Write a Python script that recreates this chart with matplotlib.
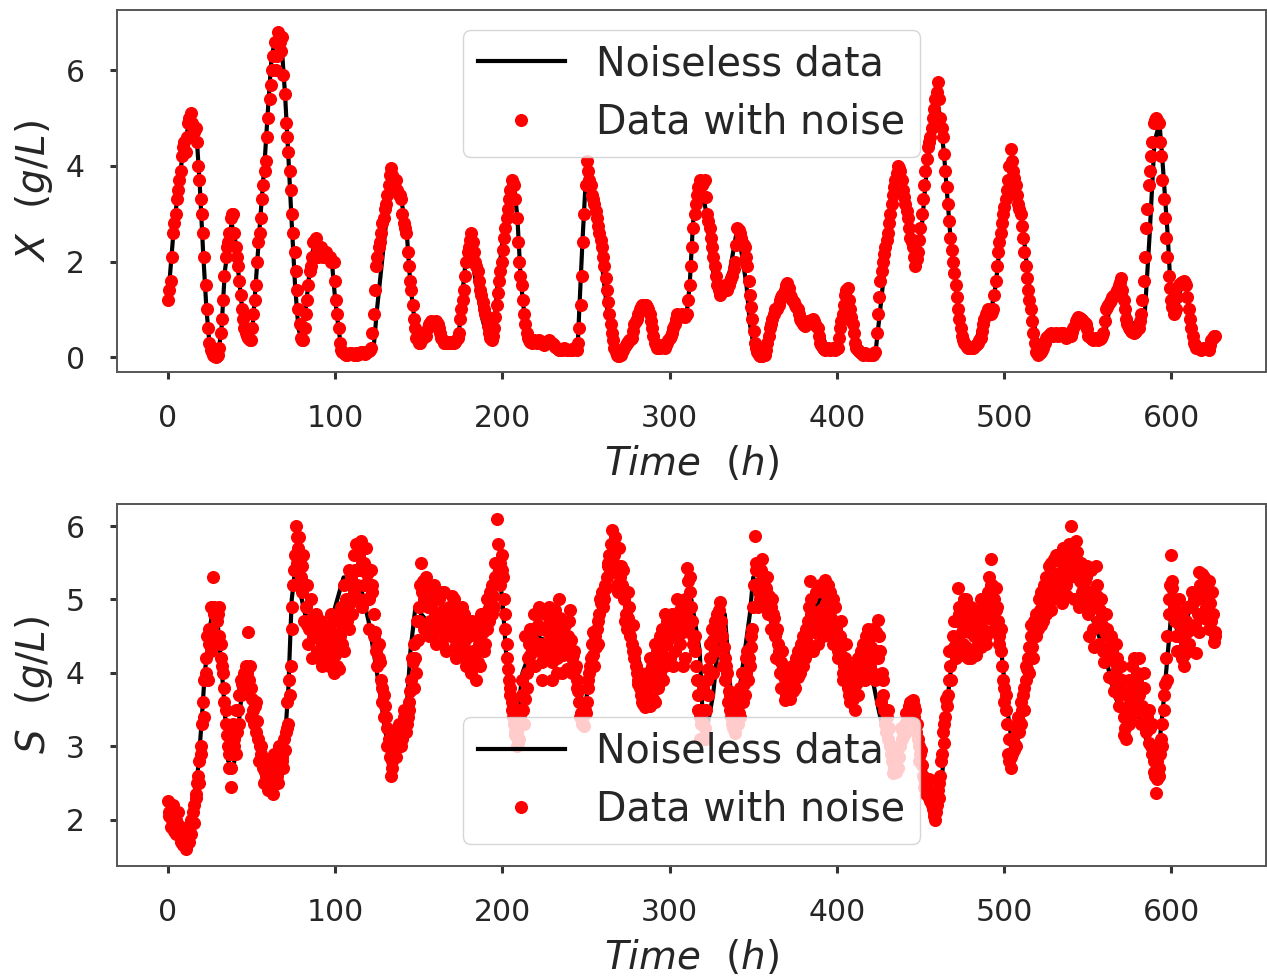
#!/usr/bin/env python3
"""Biomass and substrate time series, noiseless vs noisy."""

import numpy as np
import matplotlib
matplotlib.use("Agg")
import matplotlib.pyplot as plt

DT = 1.5
ROW_HOURS = 60

# noisy samples, one row per 60 h
x_noisy_rows = [
    [1.2,1.6,2.6,3.0,3.5,3.9,4.4,4.3,4.9,5.1,4.7,4.8,4.0,3.3,2.6,1.5,0.6,0.15,0.05,0.0,0.05,0.5,1.2,2.1,2.4,2.9,3.0,2.3,1.9,1.3,0.8,0.5,0.4,0.35,0.9,1.5,2.4,2.9,3.6,4.1],
    [5.0,5.7,6.3,6.0,6.8,6.4,5.9,4.9,4.3,3.5,2.6,1.8,1.0,0.4,0.35,0.9,1.5,1.9,2.4,2.5,2.1,2.3,2.1,2.2,2.1,2.0,2.0,1.2,0.6,0.15,0.08,0.05,0.06,0.08,0.05,0.08,0.06,0.1,0.08,0.1],
    [0.12,0.2,0.9,1.9,2.3,2.6,2.9,3.2,3.6,3.95,3.6,3.7,3.4,3.3,2.8,2.6,1.9,1.4,0.8,0.4,0.3,0.35,0.5,0.45,0.7,0.75,0.7,0.75,0.6,0.4,0.3,0.3,0.32,0.3,0.3,0.35,0.5,1.0,1.4,2.0],
    [2.3,2.6,2.2,1.9,1.6,1.3,1.0,0.8,0.5,0.35,0.6,1.1,1.6,2.0,2.5,2.9,3.3,3.7,3.6,2.9,2.0,1.5,0.9,0.5,0.35,0.3,0.35,0.3,0.35,0.3,0.25,0.3,0.35,0.3,0.25,0.2,0.15,0.15,0.2,0.15],
    [0.15,0.15,0.2,0.15,0.6,1.7,3.0,4.1,3.7,3.4,3.2,2.9,2.6,2.3,1.9,1.4,0.9,0.5,0.2,0.05,0.02,0.1,0.2,0.3,0.35,0.4,0.7,0.8,1.0,1.1,1.1,1.05,0.9,0.6,0.3,0.2,0.2,0.25,0.2,0.3],
    [0.4,0.5,0.7,0.9,0.85,0.9,0.85,0.9,1.5,2.3,3.0,3.4,3.7,3.6,3.7,3.0,2.7,2.3,1.9,1.5,1.3,1.4,1.5,1.4,1.6,1.7,2.0,2.7,2.6,2.4,2.3,1.9,1.3,0.8,0.3,0.1,0.02,0.03,0.05,0.3],
    [0.6,0.8,1.0,1.0,1.2,1.3,1.4,1.55,1.3,1.2,1.1,1.0,0.8,0.7,0.65,0.75,0.75,0.8,0.7,0.6,0.3,0.2,0.15,0.2,0.15,0.2,0.15,0.2,0.6,0.9,1.3,1.45,1.0,0.7,0.3,0.15,0.1,0.05,0.08,0.05],
    [0.05,0.05,0.1,0.9,1.6,2.0,2.3,2.6,3.0,3.4,3.7,4.0,3.9,3.5,3.2,2.9,2.5,2.3,1.9,2.2,2.7,3.3,3.9,4.4,4.6,5.0,5.4,5.75,5.0,4.6,3.9,3.2,2.5,2.0,1.5,1.0,0.6,0.35,0.25,0.2],
    [0.2,0.2,0.25,0.3,0.4,0.7,0.9,1.0,0.9,1.0,1.6,2.2,2.6,3.0,3.3,3.7,4.35,3.9,3.6,3.2,3.0,2.5,1.9,1.4,1.0,0.5,0.1,0.05,0.1,0.2,0.4,0.45,0.5,0.45,0.5,0.45,0.5,0.5,0.4,0.45],
    [0.45,0.6,0.75,0.85,0.8,0.75,0.7,0.45,0.4,0.35,0.4,0.35,0.4,0.5,1.0,1.1,1.2,1.3,1.3,1.5,1.65,1.2,0.8,0.6,0.55,0.5,0.55,0.6,0.9,1.6,2.7,3.6,4.2,4.9,5.0,4.9,4.2,3.3,2.5,1.7],
    [1.2,0.9,1.0,1.5,1.55,1.6,1.5,1.0,0.6,0.3,0.2,0.2,0.15,0.2,0.2,0.15,0.35,0.45],
]
# the samples between those, 0.75 h later
x_between_rows = [
    [1.4,2.1,2.8,3.3,3.7,4.2,4.5,4.6,5.0,4.9,4.7,4.5,3.7,3.0,2.1,1.0,0.3,0.1,0.02,0.02,0.2,0.8,1.7,2.3,2.6,3.0,2.6,2.1,1.6,1.0,0.6,0.45,0.35,0.6,1.2,2.0,2.6,3.3,3.9,4.6],
    [5.4,6.0,6.6,6.3,6.6,6.7,5.5,4.6,3.9,3.0,2.2,1.4,0.7,0.35,0.6,1.2,1.8,2.1,2.45,2.3,2.2,2.2,2.2,2.1,2.1,2.0,1.6,0.9,0.3,0.1,0.06,0.05,0.08,0.06,0.06,0.05,0.08,0.1,0.06,0.1],
    [0.15,0.5,1.4,2.1,2.4,2.8,3.1,3.4,3.8,3.8,3.7,3.5,3.4,3.0,2.7,2.2,1.6,1.1,0.6,0.35,0.3,0.4,0.5,0.6,0.72,0.7,0.72,0.7,0.5,0.35,0.3,0.3,0.3,0.32,0.32,0.4,0.8,1.2,1.7,2.2],
    [2.45,2.4,2.0,1.8,1.4,1.15,0.9,0.65,0.4,0.45,0.85,1.35,1.8,2.25,2.7,3.1,3.5,3.65,3.3,2.4,1.7,1.2,0.7,0.4,0.32,0.33,0.32,0.33,0.32,0.28,0.28,0.33,0.32,0.28,0.22,0.18,0.16,0.18,0.17,0.15],
    [0.15,0.18,0.17,0.3,1.1,2.4,3.6,3.9,3.6,3.3,3.05,2.75,2.45,2.1,1.65,1.15,0.7,0.35,0.1,0.03,0.05,0.15,0.25,0.32,0.38,0.55,0.75,0.9,1.05,1.1,1.1,1.0,0.75,0.45,0.25,0.2,0.22,0.22,0.25,0.35],
    [0.45,0.6,0.8,0.88,0.88,0.88,0.88,1.2,1.9,2.7,3.2,3.55,3.65,3.65,3.35,2.85,2.5,2.1,1.7,1.4,1.35,1.45,1.45,1.5,1.65,1.85,2.35,2.65,2.5,2.35,2.1,1.6,1.05,0.55,0.2,0.05,0.03,0.04,0.15,0.45],
    [0.7,0.9,1.0,1.1,1.25,1.35,1.5,1.45,1.25,1.15,1.05,0.9,0.75,0.68,0.7,0.75,0.78,0.75,0.65,0.45,0.25,0.18,0.18,0.18,0.18,0.18,0.18,0.4,0.75,1.1,1.4,1.2,0.85,0.5,0.2,0.12,0.08,0.06,0.06,0.05],
    [0.05,0.08,0.5,1.25,1.8,2.15,2.45,2.8,3.2,3.55,3.85,3.95,3.7,3.35,3.05,2.7,2.4,2.1,2.05,2.45,3.0,3.6,4.15,4.5,4.8,5.2,5.55,5.4,4.8,4.25,3.55,2.85,2.25,1.75,1.25,0.8,0.45,0.3,0.22,0.2],
    [0.2,0.22,0.28,0.35,0.55,0.8,0.95,0.95,0.95,1.3,1.9,2.4,2.8,3.15,3.5,4.0,4.1,3.75,3.4,3.1,2.75,2.2,1.65,1.2,0.75,0.3,0.08,0.08,0.15,0.3,0.42,0.48,0.48,0.48,0.48,0.48,0.5,0.45,0.42,0.5],
    [0.52,0.68,0.8,0.82,0.78,0.72,0.58,0.42,0.38,0.38,0.38,0.38,0.45,0.75,1.05,1.15,1.25,1.3,1.4,1.58,1.4,1.0,0.7,0.58,0.52,0.52,0.58,0.75,1.2,2.1,3.1,3.9,4.5,4.95,4.95,4.5,3.7,2.9,2.1,1.45],
    [1.05,0.95,1.25,1.52,1.58,1.55,1.25,0.8,0.45,0.25,0.2,0.18,0.18,0.2,0.18,0.25,0.4,0.45],
]
s_noisy_rows = [
    [2.25,1.9,2.2,1.8,2.1,1.7,1.65,1.6,1.9,1.8,2.1,2.35,2.6,3.0,3.6,4.2,3.9,4.9,5.3,4.5,4.8,4.2,4.0,3.3,3.0,2.45,3.3,2.9,3.5,3.9,3.8,4.1,4.55,3.8,3.5,3.6,3.1,2.9,2.7,2.6],
    [2.4,2.6,2.35,2.8,2.5,3.0,2.7,3.2,3.3,4.1,5.2,6.0,5.7,5.3,5.6,4.9,4.4,5.0,4.5,4.8,4.2,4.7,4.3,4.6,4.1,4.8,4.0,4.5,4.05,4.9,4.3,5.0,4.6,5.3,5.1,5.75,5.0,5.8,5.2,5.7],
    [5.0,5.4,4.8,4.3,4.4,3.9,3.7,3.4,3.1,2.6,3.0,2.85,3.2,3.0,3.4,3.2,3.6,3.9,4.4,4.0,4.9,5.5,5.0,5.3,4.5,4.9,5.2,4.4,5.0,4.6,5.1,4.3,4.9,4.5,5.0,4.2,4.7,4.4,4.8,4.1],
    [4.5,4.0,4.6,3.9,4.4,4.8,4.3,5.0,4.7,5.2,4.9,6.1,5.4,5.6,5.0,4.2,3.9,3.5,3.3,3.0,3.1,3.7,3.3,4.0,4.4,4.1,4.8,4.4,4.9,3.9,4.6,4.2,4.9,3.9,4.7,4.2,5.0,4.0,4.5,4.3],
    [4.7,4.2,4.3,3.9,3.6,3.3,3.27,3.6,4.0,4.4,4.1,4.6,4.8,5.1,5.0,5.3,5.6,5.95,5.6,5.2,5.7,5.2,5.0,4.6,4.9,4.4,4.2,4.0,3.8,3.6,3.54,4.0,3.55,4.1,3.6,4.3,4.0,4.6,4.1,4.7],
    [4.2,4.8,4.3,5.0,4.4,4.9,4.2,5.43,5.1,4.7,4.3,3.9,3.1,3.5,3.1,3.9,4.2,4.6,4.3,4.8,4.97,4.5,4.2,4.0,3.5,3.3,3.18,3.5,3.4,4.0,3.7,4.3,4.1,4.6,5.87,5.2,5.0,5.55,4.9,5.3],
    [4.8,5.0,4.5,4.6,4.0,4.3,3.63,3.9,3.65,4.1,3.8,4.3,4.0,4.5,4.2,4.7,5.25,4.3,4.8,4.4,5.2,4.5,5.27,4.6,5.1,4.4,4.9,4.3,4.5,4.0,4.2,3.8,3.6,4.1,3.5,4.2,3.9,4.4,3.9,4.6],
    [4.1,4.6,3.9,4.72,4.3,3.7,3.3,3.5,3.0,2.64,2.75,2.7,3.0,3.2,3.3,3.4,3.6,3.63,3.5,3.1,2.9,2.6,2.5,2.4,2.25,2.15,2.0,2.4,2.6,3.2,3.4,3.7,4.1,4.5,4.2,5.15,4.7,4.4,5.0,4.2],
    [4.9,4.3,4.7,4.4,5.0,4.6,4.5,5.1,5.55,4.9,5.15,4.7,4.3,3.9,3.7,2.9,2.7,3.1,3.0,3.4,3.3,3.7,3.9,4.2,4.5,4.2,4.8,4.6,5.1,4.7,5.3,4.9,5.5,5.0,5.6,5.1,5.3,5.7,5.2,5.6],
    [6.0,5.4,5.8,5.0,5.5,5.2,5.3,4.8,5.4,4.6,5.45,4.7,5.0,4.3,4.8,4.2,4.5,3.9,4.4,3.7,4.1,3.4,3.1,3.9,3.4,4.2,3.6,4.2,3.3,3.8,3.2,3.5,3.0,2.8,2.37,2.7,3.1,3.5,4.2,4.8],
    [5.6,4.9,4.5,5.0,4.3,4.1,4.7,4.4,4.9,5.0,4.27,5.37,5.1,5.3,4.9,5.25,4.7,4.42],
]
s_between_rows = [
    [2.05,2.0,2.0,1.95,1.9,1.75,1.7,1.75,1.85,1.95,2.2,2.5,2.8,3.3,3.9,4.5,4.4,4.6,4.9,4.7,4.5,4.1,3.6,3.15,2.7,2.9,3.1,3.2,3.7,3.85,3.95,4.0,4.1,3.65,3.55,3.35,3.0,2.8,2.65,2.5],
    [2.5,2.45,2.6,2.65,2.75,2.85,2.95,3.25,3.7,4.6,5.6,5.85,5.5,5.45,5.2,4.65,4.7,4.75,4.65,4.5,4.45,4.5,4.45,4.35,4.45,4.4,4.25,4.3,4.5,4.6,4.65,4.8,4.95,5.2,5.4,5.4,5.4,5.5,5.45,5.35],
    [5.2,5.1,4.55,4.35,4.15,3.8,3.55,3.25,2.85,2.8,2.95,3.0,3.1,3.2,3.3,3.4,3.75,4.15,4.2,4.45,5.2,5.25,5.15,4.9,4.7,5.05,4.8,4.7,4.8,4.85,4.7,4.6,4.7,4.75,4.6,4.45,4.55,4.6,4.45,4.3],
    [4.25,4.3,4.25,4.15,4.6,4.55,4.65,4.85,4.95,5.05,5.5,5.75,5.5,5.3,4.6,4.05,3.7,3.4,3.15,3.05,3.4,3.5,3.65,4.2,4.25,4.45,4.6,4.65,4.4,4.25,4.4,4.55,4.4,4.3,4.45,4.6,4.5,4.25,4.4,4.5],
    [4.45,4.25,4.1,3.75,3.45,3.3,3.45,3.8,4.2,4.25,4.35,4.7,4.95,5.05,5.15,5.45,5.75,5.75,5.4,5.45,5.45,5.1,4.8,4.75,4.65,4.3,4.1,3.9,3.7,3.57,3.75,3.8,3.85,3.85,3.95,4.15,4.3,4.35,4.4,4.45],
    [4.5,4.55,4.65,4.7,4.65,4.55,4.8,5.25,4.9,4.5,4.1,3.5,3.3,3.3,3.5,4.05,4.4,4.45,4.55,4.85,4.7,4.35,4.1,3.75,3.4,3.25,3.35,3.45,3.7,3.85,4.0,4.2,4.35,5.2,5.5,5.1,5.25,5.2,5.1,5.05],
    [4.9,4.75,4.55,4.3,4.15,3.95,3.75,3.8,3.85,3.95,4.05,4.15,4.25,4.35,4.45,4.9,4.8,4.55,4.6,4.8,4.85,4.9,4.95,4.85,4.75,4.65,4.6,4.4,4.25,4.1,4.0,3.7,3.85,3.8,3.85,4.05,4.15,4.15,4.25,4.35],
    [4.35,4.25,4.3,4.5,4.0,3.5,3.4,3.25,2.8,2.7,2.72,2.85,3.1,3.25,3.35,3.5,3.62,3.55,3.3,3.0,2.75,2.55,2.45,2.3,2.2,2.05,2.2,2.5,2.9,3.3,3.55,3.9,4.3,4.35,4.7,4.9,4.55,4.7,4.6,4.55],
    [4.6,4.5,4.55,4.7,4.8,4.55,4.8,5.3,5.2,5.0,4.9,4.5,4.1,3.8,3.3,2.8,2.9,3.05,3.2,3.35,3.5,3.8,4.05,4.35,4.35,4.5,4.7,4.85,4.9,5.0,5.1,5.2,5.25,5.3,5.35,5.2,5.5,5.45,5.4,5.3],
    [5.7,5.6,5.4,5.25,5.35,5.25,5.05,5.1,5.0,5.0,5.05,4.85,4.65,4.55,4.5,4.35,4.2,4.15,4.05,3.9,3.75,3.25,3.5,3.65,3.8,3.9,3.9,3.75,3.55,3.5,3.35,3.25,2.9,2.6,2.55,2.9,3.3,3.85,4.5,5.2],
    [5.25,4.7,4.75,4.65,4.2,4.4,4.55,4.65,4.95,4.65,4.8,5.2,5.2,5.1,5.05,4.95,4.8,4.55],
]
# S scatters more widely, so a third pass fills the band, 0.4 h after the first
s_band_rows = [
    [2.1,2.05,1.85,2.0,1.8,1.9,1.7,1.65,1.7,2.0,1.95,2.3,2.5,2.9,3.4,4.0,4.6,4.3,4.8,4.4,4.9,4.4,3.8,3.5,2.9,2.7,3.0,3.5,3.3,3.7,4.0,3.9,3.9,3.4,3.3,3.2,2.8,3.0,2.5,2.8],
    [2.7,2.5,2.9,2.6,3.0,2.8,3.1,3.6,3.9,4.9,5.4,5.5,5.85,5.1,4.7,5.2,4.6,4.2,4.6,4.3,4.7,4.1,4.55,4.2,4.6,4.2,4.7,4.1,4.8,4.4,5.2,4.7,5.4,4.8,5.6,5.2,5.6,4.9,5.5,5.0],
    [4.6,5.2,4.5,4.1,4.2,3.6,3.4,3.0,3.0,2.7,3.2,3.05,3.3,3.1,3.5,3.3,3.5,4.2,3.8,4.7,4.7,5.1,4.6,5.0,5.15,4.55,5.0,4.55,5.1,4.4,4.5,4.8,4.55,5.05,4.35,4.85,4.25,4.9,4.2,4.7],
    [4.05,4.7,4.15,4.5,4.1,4.7,4.4,4.6,5.1,4.8,5.3,5.3,5.2,5.4,4.8,4.4,3.8,3.6,3.2,3.2,3.5,3.9,4.5,3.8,4.6,4.3,4.1,4.8,4.6,4.15,4.8,4.4,4.7,4.15,4.85,4.0,4.75,4.35,4.65,4.05],
    [4.85,4.0,4.05,3.8,3.4,3.4,3.5,3.9,4.1,4.55,4.5,4.4,5.0,4.9,5.2,5.5,5.4,5.65,5.85,5.1,5.3,5.4,4.7,5.1,4.5,4.65,4.3,3.85,4.0,3.7,3.9,3.6,4.2,3.65,4.4,3.8,4.5,3.9,4.8,4.2],
    [4.6,4.1,4.75,4.5,4.85,4.1,5.0,4.6,5.3,4.4,4.5,3.7,3.4,3.8,3.25,3.7,4.4,4.0,4.7,4.5,4.6,4.1,3.9,3.6,3.7,3.25,3.6,3.3,3.8,3.6,4.2,3.9,4.5,4.9,5.4,4.9,5.4,5.05,5.15,4.8],
    [4.6,4.8,4.2,4.4,3.8,4.1,3.7,3.65,4.0,3.75,4.2,3.95,4.4,4.1,4.6,4.4,5.0,4.6,5.1,4.6,4.7,5.1,4.7,5.2,4.5,5.0,4.6,4.2,4.7,3.9,4.4,4.05,3.75,3.65,4.0,3.7,4.3,4.05,4.5,4.2],
    [4.5,4.0,4.55,4.2,3.6,3.9,3.2,3.1,2.9,2.8,2.65,3.0,3.25,3.15,3.45,3.55,3.5,3.4,3.2,2.8,2.95,2.45,2.35,2.55,2.35,2.1,2.1,2.3,2.8,3.05,3.65,4.3,3.9,4.7,4.4,4.8,4.25,5.0,4.35,4.85],
    [4.2,4.8,4.25,4.85,4.35,4.95,4.4,4.75,5.2,4.6,4.85,4.4,4.6,3.6,3.5,3.1,2.85,2.95,3.25,3.2,3.6,3.5,4.1,4.0,4.65,4.7,4.5,5.0,4.65,5.2,4.8,5.45,4.85,5.55,5.25,5.6,4.95,5.5,5.05,5.75],
    [5.5,5.0,5.65,4.9,5.1,4.95,5.45,4.5,4.9,4.35,5.2,4.4,4.8,4.15,4.6,3.95,4.3,3.75,4.2,3.55,3.9,3.15,3.7,3.3,4.1,3.5,4.0,3.7,3.45,4.0,3.4,3.05,3.3,2.65,2.8,2.6,3.0,3.7,3.9,5.0],
    [5.15,5.0,4.3,4.5,4.8,4.25,4.9,4.3,5.1,4.6,5.0,4.55,5.35,4.75,5.15,4.6,5.1,4.5],
]

# noiseless curves, read at their turning points
x_line_t = [0,3,6,9,12,14,17,19,21,23,25,27,30,32,34,36,38,40,42,45,47,50,52,55,58,60,62,64,66,68,70,72,74,76,78,80,82,85,87,90,94,98,100,102,104,110,120,123,125,128,131,134,136,140,143,145,148,150,153,157,162,165,170,174,176,178,180,182,185,188,192,195,197,200,203,205,207,209,211,214,218,225,230,240,245,246,248,250,252,254,258,260,262,265,268,270,273,277,280,284,288,290,293,297,302,305,310,312,314,316,319,322,325,328,332,336,340,343,346,348,351,355,358,361,365,369,373,377,381,386,390,394,400,403,406,408,411,415,423,426,429,433,437,440,445,448,451,454,457,459,461,464,468,472,475,479,483,487,492,495,498,502,505,508,511,514,518,521,525,530,540,545,550,553,560,563,568,572,575,580,584,587,590,593,595,598,600,603,606,609,612,615,620,623,626]
x_line_y = [1.2,2.5,3.5,4.3,4.8,5.0,4.7,3.6,2.2,1.0,0.2,0.05,0.05,0.6,1.8,2.3,2.8,2.5,1.8,0.8,0.4,0.35,1.3,2.8,4.2,5.3,6.3,6.6,6.7,6.5,5.5,4.2,2.8,1.5,0.6,0.35,0.9,1.9,2.3,2.1,2.1,2.0,1.2,0.6,0.1,0.08,0.15,0.2,1.0,2.0,3.0,3.8,3.6,3.2,2.5,1.5,0.6,0.35,0.5,0.7,0.65,0.35,0.3,0.5,1.3,2.0,2.5,2.0,1.4,0.8,0.3,0.6,1.5,2.4,3.0,3.6,3.6,2.9,1.6,0.6,0.35,0.3,0.2,0.15,0.2,1.0,2.5,3.8,3.6,3.2,2.4,1.8,1.2,0.4,0.05,0.05,0.2,0.5,0.9,1.1,0.9,0.4,0.2,0.25,0.5,0.9,0.85,1.5,2.8,3.4,3.6,3.0,2.0,1.4,1.4,1.8,2.6,2.2,1.5,0.7,0.1,0.02,0.05,0.6,1.0,1.4,1.2,0.9,0.7,0.75,0.6,0.2,0.2,0.9,1.3,1.0,0.4,0.1,0.05,1.0,2.0,3.0,3.9,3.4,2.3,2.0,2.8,4.0,4.8,5.4,5.2,4.3,2.5,1.2,0.4,0.2,0.3,0.8,0.9,1.5,2.5,3.2,4.1,3.5,2.8,1.8,0.7,0.1,0.2,0.45,0.4,0.75,0.7,0.4,0.4,1.0,1.3,1.5,0.8,0.55,0.8,2.5,4.5,4.9,4.0,2.5,1.2,0.9,1.5,1.5,0.6,0.2,0.15,0.35,0.45]
s_line_t = [0,5,10,12,15,18,20,22,25,27,30,33,36,39,41,44,47,50,54,58,62,66,70,72,74,76,78,82,90,95,100,105,110,115,120,125,130,134,138,143,145,148,155,165,175,180,183,188,192,197,200,203,206,208,212,220,230,240,245,249,252,256,262,266,270,275,280,285,288,292,300,310,313,318,320,322,326,330,333,337,339,345,348,350,353,358,362,366,370,380,390,400,405,410,418,425,430,436,440,445,450,455,460,463,467,470,480,490,493,497,502,505,508,513,518,525,535,540,545,552,560,566,570,578,582,588,591,595,600,605,612,618,624]
s_line_y = [2.2,1.9,1.65,1.9,2.2,2.7,3.3,4.0,4.6,4.9,4.6,3.8,2.8,2.7,3.0,3.7,4.0,3.6,3.0,2.7,2.5,2.7,3.1,3.8,5.0,5.4,5.2,4.8,4.6,4.4,4.9,5.3,5.3,5.2,4.7,4.0,3.2,2.8,3.2,3.6,4.3,4.9,4.7,4.6,4.5,4.3,4.3,4.7,5.1,5.5,5.0,4.0,3.4,3.2,4.0,4.5,4.4,4.5,4.0,3.4,4.0,4.6,5.2,5.6,5.4,5.0,4.3,3.9,3.7,4.0,4.5,4.8,5.0,4.3,3.3,3.2,3.7,4.6,4.8,3.6,3.3,4.3,4.8,5.3,5.1,4.9,4.6,4.0,3.9,4.6,5.0,4.4,3.9,4.0,4.3,3.5,3.0,2.8,3.0,3.4,3.0,2.4,2.1,2.6,3.8,4.4,4.6,4.8,5.0,4.6,3.5,3.0,3.3,4.0,4.6,5.0,5.3,5.5,5.2,4.8,4.3,3.7,3.5,3.7,3.3,2.9,2.6,3.5,4.8,4.5,4.9,5.1,4.7]

x_ticks = [0, 100, 200, 300, 400, 500, 600]
x_y_ticks = [0, 2, 4, 6]
s_y_ticks = [2, 3, 4, 5, 6]
TEXT = "#262626"


def row_times(rows, offset=0.0):
    return np.concatenate([ROW_HOURS * i + offset + DT * np.arange(len(r))
                           for i, r in enumerate(rows)])


def draw(ax, line_t, line_y, passes, ylabel, yticks, ylim, legend_loc, pad):
    ax.plot(line_t, line_y, color="black", linewidth=3.0, label="Noiseless data")
    t = np.concatenate([row_times(rows, offset) for rows, offset in passes])
    y = np.concatenate([np.concatenate(rows) for rows, _ in passes])
    ax.plot(t, y, "o", color="red", markersize=8.4, label="Data with noise")
    ax.set_xlim(-30.5, 656.7)
    ax.set_ylim(*ylim)
    ax.set_xticks(x_ticks)
    ax.set_yticks(yticks)
    ax.tick_params(labelsize=21.5, length=5, width=2.2, pad=18, color="#333333",
                   labelcolor=TEXT)
    ax.set_xlabel(r"$Time\ \ (h)$", fontsize=28, color=TEXT, labelpad=8)
    ax.set_ylabel(ylabel, fontsize=28, color=TEXT, labelpad=8)
    for spine in ax.spines.values():
        spine.set_color("#555555")
        spine.set_linewidth(1.4)
    ax.legend(loc=legend_loc, fontsize=28.5, borderaxespad=pad, handlelength=2.2,
              labelspacing=0.47, borderpad=0.36, labelcolor=TEXT)


def main():
    fig, (ax_x, ax_s) = plt.subplots(2, 1, figsize=(12.67, 9.8), dpi=100)
    fig.subplots_adjust(left=117 / 1267, right=1266 / 1267, top=1 - 10 / 980,
                        bottom=1 - 866 / 980, hspace=132 / 362)
    draw(ax_x, x_line_t, x_line_y, [(x_noisy_rows, 0.0), (x_between_rows, 0.75)],
         r"$X\ \ (g/L)$", x_y_ticks, (-0.31, 7.26), "upper center", 0.5)
    draw(ax_s, s_line_t, s_line_y,
         [(s_noisy_rows, 0.0), (s_between_rows, 0.75), (s_band_rows, 0.4)],
         r"$S\ \ (g/L)$", s_y_ticks, (1.37, 6.3), "lower center", 0.55)
    fig.savefig("out.png", dpi=100)
    plt.close(fig)


if __name__ == "__main__":
    main()
